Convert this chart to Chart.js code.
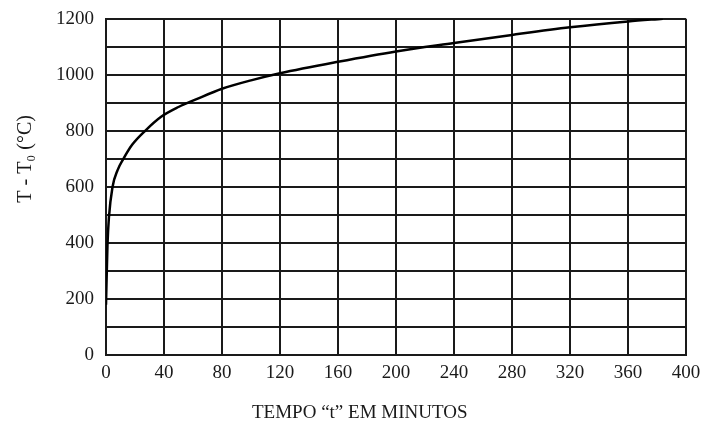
<!DOCTYPE html>
<html>
<head>
<meta charset="utf-8">
<script src="https://cdn.jsdelivr.net/npm/chart.js@4"></script>
<style>
  body { margin: 0; background: #fff; }
  #wrap { width: 708px; height: 425px; }
</style>
</head>
<body>
<div id="wrap"><canvas id="fireChart" width="708" height="425"></canvas></div>
<script>
// curve: minutes vs temperature rise
const tempoMin = [0, 1, 2, 4.5, 8, 12, 18, 27, 38, 50, 62, 80, 100, 120, 160, 200, 240, 280, 320, 360, 384];
const deltaT = [180, 390, 490, 600, 660, 700, 750, 800, 850, 885, 912, 950, 980, 1005, 1046, 1083, 1113, 1142, 1169, 1190, 1200];

const xTitle = 'TEMPO \u201ct\u201d EM MINUTOS';
const yTitle = 'T - T\u2080 (\u00b0C)';

const serif = "'Liberation Serif', 'DejaVu Serif', serif";
const ink = '#1a1a1a';

const points = tempoMin.map((t, i) => ({ x: t, y: deltaT[i] }));

// axis titles sit a bit off-centre in the original figure, so draw them by hand
const axisTitles = {
    id: 'axisTitles',
    afterDraw(chart) {
        const c = chart.ctx;
        const x = chart.scales.x, y = chart.scales.y;
        c.save();
        c.fillStyle = ink;
        c.textAlign = 'center';
        c.textBaseline = 'middle';
        c.font = '19px ' + serif;
        c.fillText(xTitle, x.getPixelForValue(175), 413);
        c.translate(26, y.getPixelForValue(700));
        c.rotate(-Math.PI / 2);
        c.font = '20px ' + serif;
        c.fillText(yTitle, 0, 0);
        c.restore();
    }
};

const ctx = document.getElementById('fireChart').getContext('2d');
new Chart(ctx, {
    type: 'line',
    data: {
        datasets: [{
            data: points,
            borderColor: '#000',
            borderWidth: 2.5,
            pointRadius: 0,
            cubicInterpolationMode: 'monotone',
            fill: false
        }]
    },
    options: {
        responsive: false,
        animation: false,
        layout: { padding: { top: 1, right: 22, left: 44, bottom: 35 } },
        plugins: {
            legend: { display: false },
            tooltip: { enabled: false }
        },
        scales: {
            x: {
                type: 'linear',
                min: 0,
                max: 400,
                ticks: { stepSize: 40, color: ink, padding: 6, font: { family: serif, size: 19 } },
                grid: { color: ink, lineWidth: 2, drawTicks: false },
                border: { color: ink, width: 2 }
            },
            y: {
                min: 0,
                max: 1200,
                ticks: {
                    stepSize: 100,
                    color: ink,
                    padding: 12,
                    font: { family: serif, size: 19, lineHeight: 0.7 },
                    callback: v => (v % 200 === 0 ? v : '')
                },
                grid: { color: ink, lineWidth: 2, drawTicks: false },
                border: { color: ink, width: 2 }
            }
        }
    },
    plugins: [axisTitles]
});
</script>
</body>
</html>
